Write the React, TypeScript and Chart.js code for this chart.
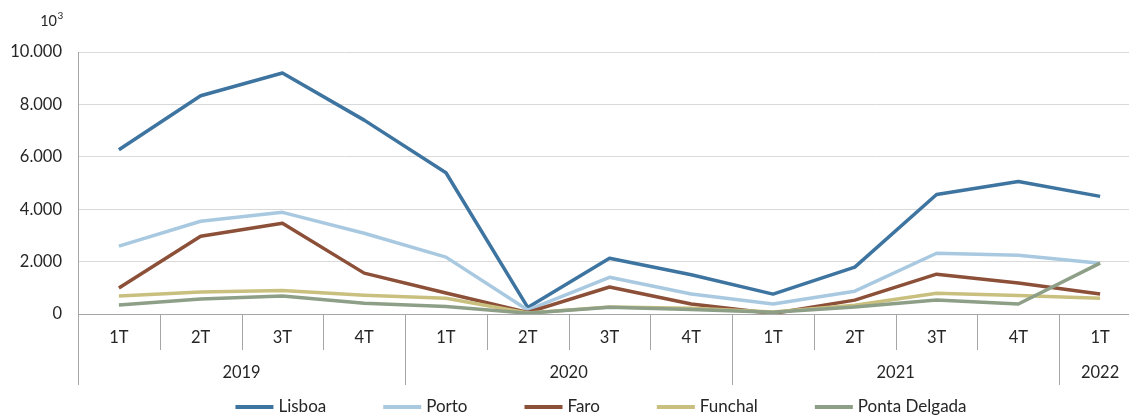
import { useEffect, useRef } from 'react';
import { Chart, registerables } from 'chart.js';

Chart.register(...registerables);

const quarters = ['1T', '2T', '3T', '4T', '1T', '2T', '3T', '4T', '1T', '2T', '3T', '4T', '1T'];
const years = ['2019', '2020', '2021', '2022'];
const yearSpans = [4, 4, 4, 1];

const lisboa = [6270, 8330, 9200, 7400, 5390, 250, 2130, 1500, 760, 1790, 4560, 5060, 4490];
const porto = [2590, 3540, 3880, 3080, 2170, 150, 1400, 760, 380, 870, 2320, 2240, 1940];
const faro = [990, 2970, 3460, 1560, 800, 60, 1030, 380, 20, 530, 1520, 1180, 760];
const funchal = [690, 840, 900, 720, 600, 40, 270, 220, 80, 330, 790, 710, 600];
const pontaDelgada = [340, 570, 690, 410, 290, 30, 260, 170, 70, 270, 530, 380, 1940];

const seriesNames = ['Lisboa', 'Porto', 'Faro', 'Funchal', 'Ponta Delgada'];
const seriesData = [lisboa, porto, faro, funchal, pontaDelgada];
const seriesColors = ['#3E74A0', '#A9C9E1', '#8C4F38', '#C9C07F', '#8E9F87'];

const yMin = 0;
const yMax = 10000;
const yStep = 2000;
const unitBase = '10';
const unitExp = '3';

const FONT = 'Lato';
const TEXT = '#262626';
const AXIS = '#a6a6a6';
const GRID = '#d9d9d9';

function fmt(v: number): string {
  return String(Math.round(v)).replace(/\B(?=(\d{3})+(?!\d))/g, '.');
}

const decorPlugin = {
  id: 'decor',
  afterDraw(chart: any) {
    const ctx = chart.ctx as CanvasRenderingContext2D;
    const xs = chart.scales.x;
    const area = chart.chartArea;
    const n = quarters.length;
    const cw = (xs.getPixelForValue(n - 1) - xs.getPixelForValue(0)) / (n - 1);
    const left = xs.getPixelForValue(0) - cw / 2;
    ctx.save();
    // separators
    const yearBounds = new Set<number>();
    let acc = 0;
    yearBounds.add(0);
    yearSpans.forEach((s) => {
      acc += s;
      yearBounds.add(acc);
    });
    ctx.strokeStyle = AXIS;
    ctx.lineWidth = 1;
    for (let k = 0; k <= n; k++) {
      const x = Math.round(left + k * cw) + 0.5;
      ctx.beginPath();
      ctx.moveTo(x, area.bottom);
      ctx.lineTo(x, area.bottom + (yearBounds.has(k) ? 71 : 36));
      ctx.stroke();
    }
    // quarter labels
    ctx.fillStyle = TEXT;
    ctx.font = `16.5px ${FONT}`;
    ctx.textAlign = 'center';
    ctx.textBaseline = 'middle';
    quarters.forEach((q, i) => ctx.fillText(q, xs.getPixelForValue(i), area.bottom + 24));
    // year labels
    let start = 0;
    years.forEach((y, j) => {
      const end = start + yearSpans[j] - 1;
      const cx = (xs.getPixelForValue(start) + xs.getPixelForValue(end)) / 2;
      ctx.fillText(y, cx, area.bottom + 59);
      start += yearSpans[j];
    });
    // unit label 10^3
    ctx.textAlign = 'right';
    ctx.font = `14.5px ${FONT}`;
    ctx.fillText(unitBase, 57, 21);
    ctx.textAlign = 'left';
    ctx.font = `10px ${FONT}`;
    ctx.fillText(unitExp, 57.5, 16);
    // legend
    ctx.font = `17px ${FONT}`;
    const lineLen = 38;
    const gap = 5;
    const itemGap = 57;
    const widths = seriesNames.map((s) => ctx.measureText(s).width);
    const total = widths.reduce((a, w) => a + lineLen + gap + w, 0) + itemGap * (seriesNames.length - 1);
    let x = 601 - total / 2;
    const ly = 407;
    ctx.textAlign = 'left';
    seriesNames.forEach((s, i) => {
      ctx.strokeStyle = seriesColors[i];
      ctx.lineWidth = 4;
      ctx.lineCap = 'butt';
      ctx.beginPath();
      ctx.moveTo(x, ly);
      ctx.lineTo(x + lineLen, ly);
      ctx.stroke();
      ctx.fillStyle = TEXT;
      ctx.fillText(s, x + lineLen + gap, ly);
      x += lineLen + gap + widths[i] + itemGap;
    });
    ctx.restore();
  },
};

export default function App() {
  const ref = useRef<HTMLCanvasElement | null>(null);
  useEffect(() => {
    if (!ref.current) return;
    const chart = new Chart(ref.current, {
      type: 'line',
      data: {
        labels: quarters,
        datasets: seriesNames.map((name, i) => ({
          label: name,
          data: seriesData[i],
          borderColor: seriesColors[i],
          backgroundColor: seriesColors[i],
          borderWidth: 3.5,
          pointRadius: 0,
          tension: 0,
          fill: false,
          borderJoinStyle: 'round' as const,
          order: seriesNames.length - i,
        })),
      },
      options: {
        animation: false,
        responsive: true,
        maintainAspectRatio: false,
        layout: { padding: { left: 0, right: 4, top: 52, bottom: 0 } },
        plugins: { legend: { display: false }, tooltip: { enabled: false }, title: { display: false } },
        scales: {
          x: {
            type: 'category',
            offset: true,
            grid: { display: false, drawTicks: false },
            ticks: { display: false },
            border: { display: true, color: AXIS },
            afterFit: (s: any) => {
              s.height = 102;
            },
          },
          y: {
            min: yMin,
            max: yMax,
            ticks: {
              stepSize: yStep,
              padding: 16,
              color: TEXT,
              font: { family: FONT, size: 16.5 },
              callback: (v: any) => fmt(Number(v)),
            },
            grid: {
              color: (c: any) => (c.tick && c.tick.value === 0 ? AXIS : GRID),
              drawTicks: false,
              lineWidth: 1,
            },
            border: { display: true, color: AXIS },
            afterFit: (s: any) => {
              s.width = 78;
            },
          },
        },
      },
      plugins: [decorPlugin],
    });
    return () => chart.destroy();
  }, []);
  return (
    <div
      style={{
        position: 'fixed',
        left: 0,
        top: 0,
        width: 1129,
        height: 416,
        overflow: 'hidden',
        background: '#fff',
      }}
    >
      <div style={{ position: 'relative', width: 1145, height: 416 }}>
        <canvas ref={ref} />
      </div>
    </div>
  );
}
